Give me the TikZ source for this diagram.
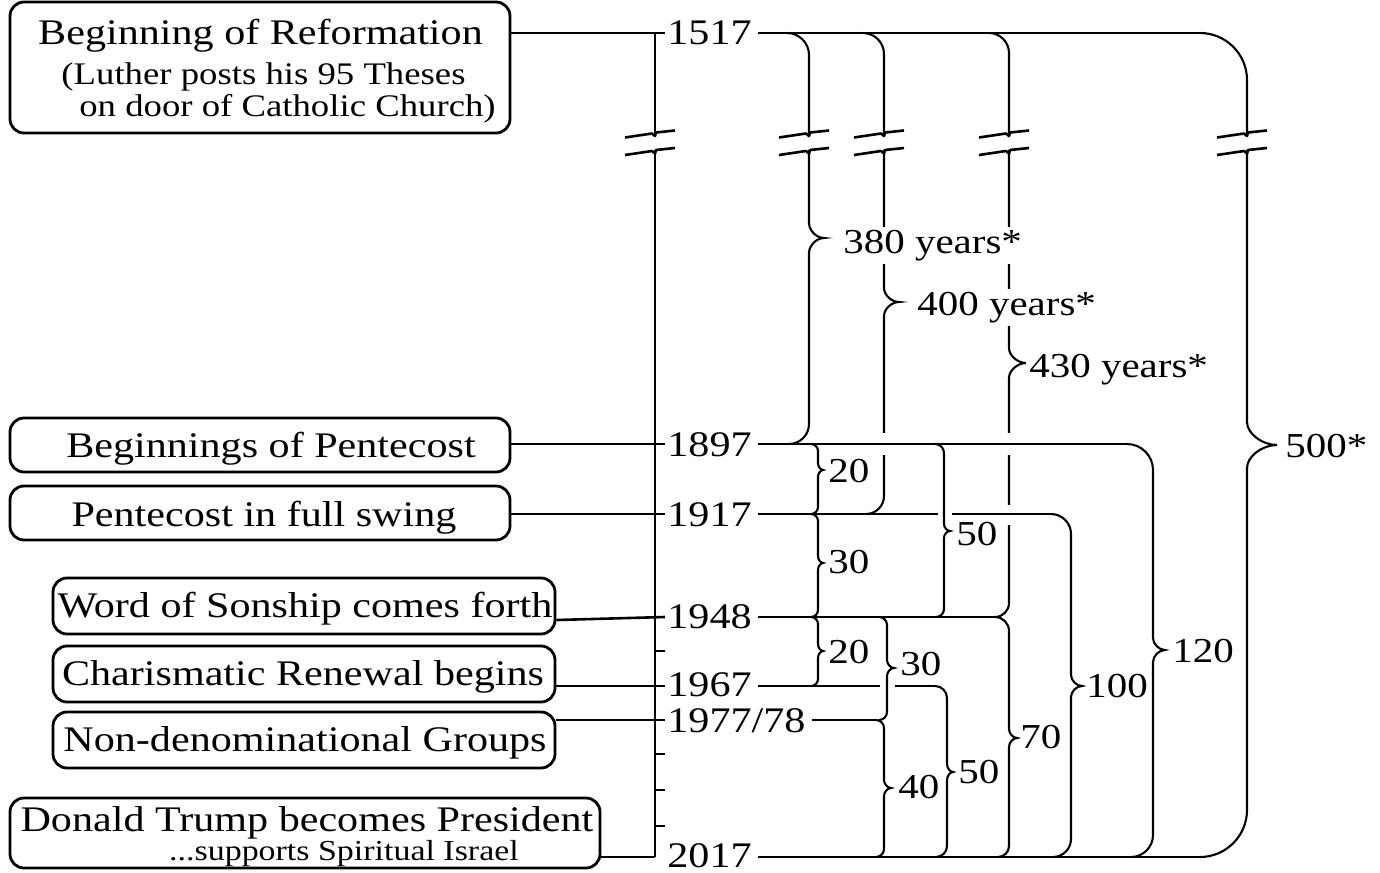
\documentclass[tikz,border=0pt]{standalone}
\usepackage{fontspec}
\setmainfont[FakeStretch=1.17]{Liberation Serif}
\usetikzlibrary{calc}
\tikzset{
  ln/.style={line width=1.3pt},
  brl/.style={line width=1.05pt},
  axl/.style={line width=1.4pt},
  box/.style={draw, line width=1.4pt, rounded corners=7pt, inner sep=0pt},
  boxtxt/.style={font=\fontsize{18}{20}\selectfont, inner sep=0pt, anchor=base},
  subtxt/.style={font=\fontsize{15.7}{18}\selectfont, inner sep=0pt, anchor=base},
  smalltxt/.style={font=\fontsize{14.5}{16}\selectfont, inner sep=0pt, anchor=base},
  yr/.style={font=\fontsize{18}{20}\selectfont, inner sep=0pt, anchor=base west},
  lab/.style={font=\fontsize{17.5}{20}\selectfont, inner sep=0pt, anchor=base west},
  ylab/.style={lab, fill=white, inner sep=1.5pt},
}
% brace: #1 x, #2 ytop, #3 ybot, #4 ycusp, #5 rtop, #6 rbot, #7 cusp width, #8 cusp half height
\newcommand\brc[8]{%
  \draw[brl] (#1-#5,#2) .. controls (#1-0.45*#5,#2) and (#1,#2+0.45*#5) .. (#1,#2+#5)
    -- (#1,#4-#8) .. controls (#1,#4-0.5*#8) and (#1+0.5*#7,#4) .. (#1+#7,#4)
    .. controls (#1+0.5*#7,#4) and (#1,#4+0.5*#8) .. (#1,#4+#8)
    -- (#1,#3-#6) .. controls (#1,#3-0.45*#6) and (#1-0.45*#6,#3) .. (#1-#6,#3);}
\newcommand\gapv[3]{\fill[white] (#1-4,#2) rectangle (#1+4,#3);}
\newcommand\brkmark[1]{%
  \fill[white] (#1-4,135) rectangle (#1+4,150);
  \draw[ln, line join=round] (#1-30,137.5) -- (#1-3,133.5) -- (#1,136) -- (#1+1,132.5) -- (#1+20,130.5);
  \draw[ln, line join=round] (#1-30,155) -- (#1-3,151) -- (#1,153.5) -- (#1+1,150) -- (#1+20,148);}
\begin{document}
\begin{tikzpicture}[x=0.5pt, y=-0.5pt]
\useasboundingbox (0,0) rectangle (1380,872);
% rows and axis
\coordinate (rA) at (0,33);
\coordinate (rB) at (0,444);
\coordinate (rC) at (0,514);
\coordinate (rD) at (0,617);
\coordinate (rE) at (0,686);
\coordinate (rF) at (0,720);
\coordinate (rG) at (0,857);
\coordinate (ax) at (655,0);
\coordinate (tk) at (665,0);
% boxes
\node[box, minimum width=250pt, minimum height=65.5pt] (ref) at (260,67.5) {};
\node[box, minimum width=250pt, minimum height=27pt] (pent) at (260,445) {};
\node[box, minimum width=250pt, minimum height=27pt] (full) at (260,513) {};
\node[box, minimum width=251pt, minimum height=28pt] (son) at (304,606) {};
\node[box, minimum width=251pt, minimum height=28pt] (char) at (304,674) {};
\node[box, minimum width=251pt, minimum height=28pt] (nond) at (304,740) {};
\node[box, minimum width=295pt, minimum height=35pt] (trump) at (305,833) {};
% box texts
\node[boxtxt] (tref1) at (260.5,45) {Beginning of Reformation};
\node[subtxt] (tref2) at (263.5,84) {(Luther posts his 95 Theses};
\node[subtxt] (tref3) at (287.5,117) {on door of Catholic Church)};
\node[boxtxt] (tpent) at (271,457) {Beginnings of Pentecost};
\node[boxtxt] (tfull) at (264,526) {Pentecost in full swing};
\node[boxtxt] (tson) at (305,617) {Word of Sonship comes forth};
\node[boxtxt] (tchar) at (303,685) {Charismatic Renewal begins};
\node[boxtxt] (tnond) at (305,751) {Non-denominational Groups};
\node[boxtxt] (ttr1) at (307,831) {Donald Trump becomes President};
\node[smalltxt] (ttr2) at (344,860) {...supports Spiritual Israel};
% year labels
\node[yr] (nA) at (667,45) {1517};
\node[yr] (nB) at (667,456) {1897};
\node[yr] (nC) at (667,526) {1917};
\node[yr] (nD) at (667,628) {1948};
\node[yr] (nE) at (667,696) {1967};
\node[yr] (nF) at (667,732) {1977/78};
\node[yr] (nG) at (667,867) {2017};
% axis and connectors
\draw[axl] (ax|-rA) -- (ax|-rG);
\draw[ln] (ref.east|-rA) -- (tk|-rA);
\draw[ln] (pent.east|-rB) -- (tk|-rB);
\draw[ln] (full.east|-rC) -- (tk|-rC);
\draw[ln] ([yshift=-7pt]son.east) -- (tk|-rD);
\draw[ln] (char.east|-rE) -- (tk|-rE);
\draw[ln] (nond.east|-rF) -- (tk|-rF);
\draw[ln] (trump.east|-rG) -- (ax|-rG);
\foreach \y in {651,754,790,826} \draw[ln] (655,\y) -- (665,\y);
% braces
\brc{809}{33}{444}{238}{22}{20}{15}{15}
\brc{884}{33}{514}{302}{21}{18}{15}{14}
\brc{1009}{33}{617}{363}{20}{14}{17}{15}
\brc{1247}{33}{857}{445}{47}{47}{30}{23}
\brc{818}{444}{514}{470}{7}{7}{5}{7}
\brc{818}{514}{617}{563}{7}{7}{5}{7}
\brc{944}{444}{617}{531}{9}{8}{6}{7}
\brc{1153}{444}{857}{650}{26}{22}{12}{12}
\brc{1071}{514}{857}{686}{20}{18}{11}{11}
\brc{818}{617}{686}{651}{7}{7}{5}{7}
\brc{887}{617}{720}{668}{8}{8}{7}{8}
\brc{1009}{617}{857}{738}{14}{11}{8}{9}
\brc{947}{686}{857}{772}{12}{11}{6}{8}
\brc{884}{720}{857}{788}{8}{8}{7}{8}
% gaps in verticals where rows pass over
\gapv{884}{433}{455}
\gapv{1009}{433}{455}
\gapv{1009}{505}{525}
% row lines
\draw[ln] ($(nA.east|-rA)+(6,0)$) -- (1200,33);
\draw[ln] ($(nB.east|-rB)+(6,0)$) -- (1127,444);
\draw[ln] ($(nC.east|-rC)+(6,0)$) -- (938,514);
\draw[ln] (952,514) -- (1051,514);
\draw[ln] ($(nD.east|-rD)+(6,0)$) -- (995,617);
\draw[ln] ($(nE.east|-rE)+(6,0)$) -- (880,686);
\draw[ln] (895,686) -- (935,686);
\draw[ln] ($(nF.east|-rF)+(6,0)$) -- (876,720);
\draw[ln] ($(nG.east|-rG)+(6,0)$) -- (1200,857);
% break marks
\brkmark{655}
\brkmark{809}
\brkmark{884}
\brkmark{1009}
\brkmark{1247}
% brace labels
\node[ylab] (l380) at (840,253) {380 years*};
\node[ylab] (l400) at (914,315) {400 years*};
\node[ylab] (l430) at (1026,377) {430 years*};
\node[lab] (l500) at (1285,457) {500*};
\node[lab] (l20a) at (828,482) {20};
\node[lab] (l30a) at (828,573) {30};
\node[lab] (l50a) at (956,545) {50};
\node[lab] (l20b) at (828,663) {20};
\node[lab] (l30b) at (900,675) {30};
\node[lab] (l40) at (898,798) {40};
\node[lab] (l50b) at (958,783) {50};
\node[lab] (l70) at (1020,748) {70};
\node[lab] (l100) at (1086,697) {100};
\node[lab] (l120) at (1172,662) {120};
\end{tikzpicture}
\end{document}
